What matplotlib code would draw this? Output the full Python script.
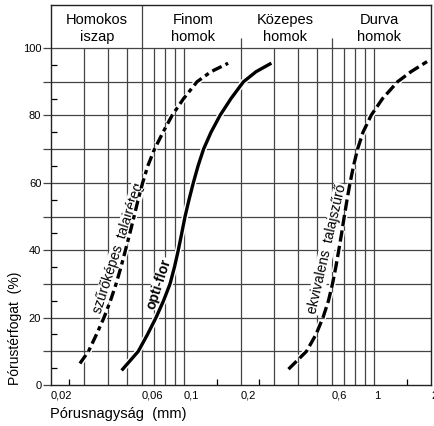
import matplotlib
matplotlib.use("Agg")
import matplotlib.pyplot as plt
import matplotlib.patheffects as pe

plt.rcParams.update({
    "font.family": ["Liberation Sans", "DejaVu Sans"],
    "font.size": 10,
})

# grain size (mm) -> pore volume (%)
SZURO_X = [0.0284, 0.0315, 0.0347, 0.0380, 0.0411, 0.0440, 0.0467, 0.0493,
           0.0520, 0.0547, 0.0575, 0.0607, 0.0646, 0.0701, 0.0777, 0.0867,
           0.0997, 0.1173, 0.139, 0.171]
SZURO_Y = [6.4, 10, 15, 20, 25, 30, 35, 40, 45, 50, 55, 60, 65, 70, 75, 80,
           85, 90, 93, 95.5]
OPTI_X = [0.0477, 0.0576, 0.0644, 0.0714, 0.0782, 0.0846, 0.0893, 0.0935,
          0.0975, 0.1015, 0.1065, 0.1122, 0.1188, 0.127, 0.139, 0.155,
          0.177, 0.206, 0.240, 0.284]
OPTI_Y = [4.7, 10, 15, 20, 25, 30, 35, 40, 45, 50, 55, 60, 65, 70, 75, 80,
          85, 90, 93, 95.3]
EKV_X = [0.3557, 0.4424, 0.4963, 0.540, 0.5773, 0.606, 0.631, 0.654, 0.677,
         0.699, 0.723, 0.750, 0.782, 0.821, 0.877, 0.967, 1.111, 1.333,
         1.569, 1.906]
EKV_Y = [4.7, 10, 15, 20, 25, 30, 35, 40, 45, 50, 55, 60, 65, 70, 75, 80,
         85, 90, 93, 96]

ZONES = ["Homokos\niszap", "Finom\nhomok", "Közepes\nhomok", "Durva\nhomok"]
ZONE_X = [0.0349, 0.1116, 0.34, 1.07]

XTICKS = [0.02, 0.06, 0.1, 0.2, 0.6, 1, 2]
XTICK_LABELS = ["0,02", "0,06", "0,1", "0,2", "0,6", "1", "2"]
XMINOR = [0.025, 0.15, 0.25, 1.5]
VLINES = [0.03, 0.04, 0.05, 0.06, 0.07, 0.08, 0.09, 0.1,
          0.2, 0.3, 0.4, 0.5, 0.6, 0.7, 0.8, 0.9, 1]
HLINES = [10, 20, 30, 40, 50, 60, 70, 80, 90, 100]

GRID = "#444444"

fig = plt.figure(figsize=(4.34, 4.26), dpi=100)
ax = fig.add_axes([51 / 434, 41 / 426, 380 / 434, 380 / 426])
ax.set_xscale("log")
ax.set_xlim(0.02, 2)
ax.set_ylim(0, 112.8)

ax.vlines(VLINES, 0, 100, color=GRID, lw=0.9, zorder=1)
ax.hlines(HLINES, 0.02, 2, color=GRID, lw=0.9, zorder=1)
# header dividers
ax.vlines([0.06], 100, 112.8, color=GRID, lw=0.9, zorder=1)
ax.vlines([0.2, 0.6], 100, 103, color=GRID, lw=0.9, zorder=1)

halo = [pe.withStroke(linewidth=4.5, foreground="white")]
ax.plot(SZURO_X, SZURO_Y, color="black", lw=2.4, dashes=(3.1, 1.3, 1.3, 1.3),
        zorder=3, path_effects=halo)
ax.plot(OPTI_X, OPTI_Y, color="black", lw=2.4, zorder=3, path_effects=halo)
ax.plot(EKV_X, EKV_Y, color="black", lw=2.4, dashes=(3.4, 1.3),
        zorder=3, path_effects=halo)

box = dict(facecolor="white", edgecolor="none", pad=0.5)
ax.text(0.0453, 40.8, "szűrőképes  talajréteg", rotation=72, ha="center",
        va="center", fontsize=10, bbox=box, zorder=2)
ax.text(0.0741, 30.1, "opti-flor", rotation=72, ha="center", va="center",
        fontsize=10, fontweight="bold", bbox=box, zorder=2)
ax.text(0.566, 40.4, "ekvivalens  talajszűrő", rotation=77, ha="center",
        va="center", fontsize=10, bbox=box, zorder=2)

for name, zx in zip(ZONES, ZONE_X):
    ax.text(zx, 105.8, name, ha="center", va="center", fontsize=10.5,
            linespacing=1.3)

ax.set_xticks(XTICKS)
ax.set_xticklabels(XTICK_LABELS, ha="left", fontsize=8)
ax.set_xticks(XMINOR, minor=True)
ax.set_xticklabels([], minor=True)
ax.tick_params(axis="x", which="major", length=0, pad=4)
ax.tick_params(axis="x", which="minor", direction="in", length=4, width=0.9)

ax.set_yticks(range(0, 101, 10))
ax.set_yticklabels([str(v) if v % 20 == 0 else "" for v in range(0, 101, 10)],
                   fontsize=8)
ax.set_yticks(range(5, 100, 10), minor=True)
ax.tick_params(axis="y", which="major", direction="out", length=6,
               width=0.9, color=GRID, pad=1)
ax.tick_params(axis="y", which="minor", direction="in", length=4, width=0.9)

for s in ax.spines.values():
    s.set_linewidth(1.0)
    s.set_color("#222222")

fig.text(15 / 434, 1 - 328 / 426, "Pórustérfogat  (%)", rotation=90,
         ha="center", va="center", fontsize=10)
fig.text(50 / 434, 1 - 414 / 426, "Pórusnagyság  (mm)", ha="left",
         va="center", fontsize=10.5)

fig.savefig("out.png", dpi=100, facecolor="white")
